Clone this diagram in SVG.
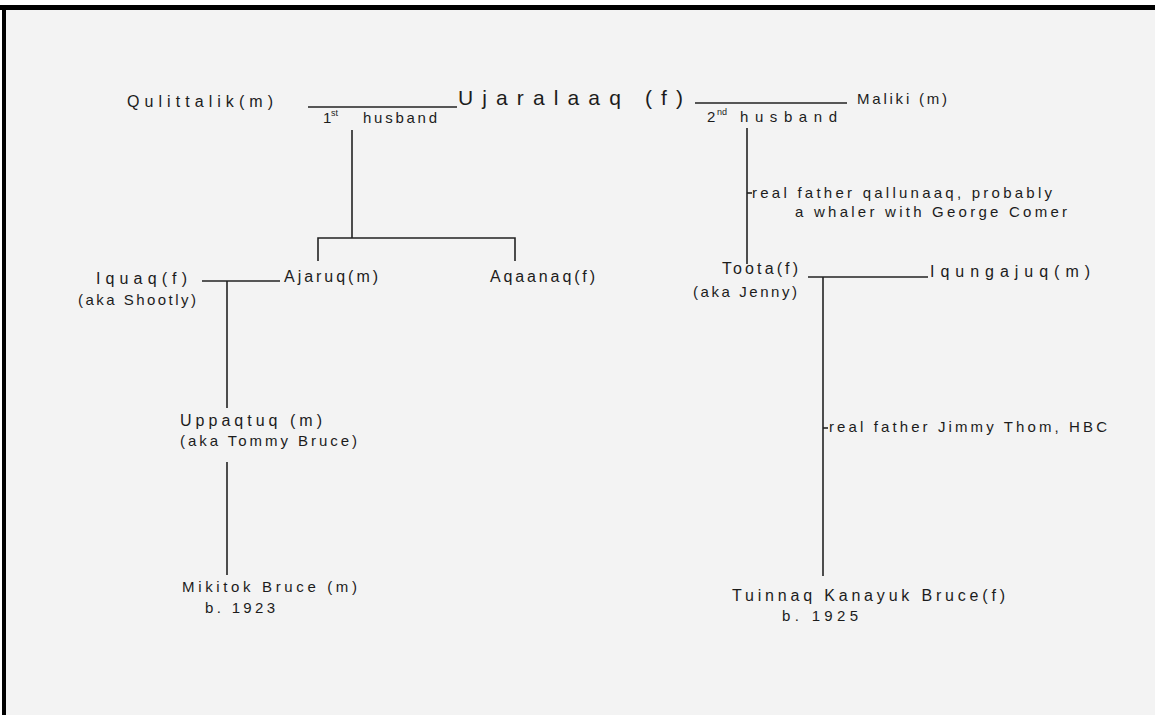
<svg xmlns="http://www.w3.org/2000/svg" width="1155" height="715" viewBox="0 0 1155 715">
<style>
text{font-family:"Liberation Sans","DejaVu Sans",sans-serif;fill:#1c1c1c;font-size:15px}
.big{font-size:21px}
.nm{font-size:16px}
.sup{font-size:9px}
.ln{stroke:#222;stroke-width:1.6;fill:none}
</style>
<rect x="0" y="0" width="1155" height="715" fill="#ffffff"/>
<rect x="5" y="9" width="1150" height="706" fill="#f3f3f3"/>
<rect x="0" y="5" width="1155" height="5" fill="#000"/>
<rect x="2" y="5" width="4" height="710" fill="#000"/>
<g id="connectors" class="ln">
<line x1="308" y1="107" x2="457" y2="107"/>
<line x1="695" y1="103" x2="847" y2="103"/>
<line x1="352" y1="130" x2="352" y2="238"/>
<polyline points="318,261 318,238 515,238 515,261"/>
<line x1="747" y1="128" x2="747" y2="264"/>
<line x1="747" y1="193" x2="752" y2="193"/>
<line x1="202" y1="281" x2="280" y2="281"/>
<line x1="227" y1="281" x2="227" y2="408"/>
<line x1="227" y1="462" x2="227" y2="575"/>
<line x1="808" y1="277" x2="928" y2="277"/>
<line x1="823" y1="277" x2="823" y2="576"/>
<line x1="823" y1="428" x2="828" y2="428"/>
</g>
<g id="qulittalik"><text class="nm" x="127" y="107" textLength="146" lengthAdjust="spacing">Qulittalik(m)</text></g>
<g id="husband1-label">
<text x="323" y="123">1</text><text class="sup" x="331" y="116">st</text>
<text x="363" y="123" textLength="74" lengthAdjust="spacing">husband</text>
</g>
<g id="ujaralaaq"><text class="big" x="458" y="105" textLength="225" lengthAdjust="spacing">Ujaralaaq (f)</text></g>
<g id="husband2-label">
<text x="707" y="122">2</text><text class="sup" x="717" y="115">nd</text>
<text x="740" y="122" textLength="97" lengthAdjust="spacing">husband</text>
</g>
<g id="maliki"><text x="857" y="104" textLength="90" lengthAdjust="spacing">Maliki (m)</text></g>
<g id="note-qallunaaq">
<text x="752" y="198" textLength="300" lengthAdjust="spacing">real father qallunaaq, probably</text>
<text x="795" y="217" textLength="272" lengthAdjust="spacing">a whaler with George Comer</text>
</g>
<g id="iquaq">
<text class="nm" x="96" y="284" textLength="91" lengthAdjust="spacing">Iquaq(f)</text>
<text x="78" y="305" textLength="118" lengthAdjust="spacing">(aka Shootly)</text>
</g>
<g id="ajaruq"><text class="nm" x="284" y="282" textLength="94" lengthAdjust="spacing">Ajaruq(m)</text></g>
<g id="aqaanaq"><text class="nm" x="490" y="282" textLength="105" lengthAdjust="spacing">Aqaanaq(f)</text></g>
<g id="toota">
<text class="nm" x="722" y="274" textLength="76" lengthAdjust="spacing">Toota(f)</text>
<text x="693" y="297" textLength="104" lengthAdjust="spacing">(aka Jenny)</text>
</g>
<g id="iqungajuq"><text class="nm" x="930" y="277" textLength="160" lengthAdjust="spacing">Iqungajuq(m)</text></g>
<g id="uppaqtuq">
<text class="nm" x="180" y="426" textLength="142" lengthAdjust="spacing">Uppaqtuq (m)</text>
<text x="180" y="446" textLength="177" lengthAdjust="spacing">(aka Tommy Bruce)</text>
</g>
<g id="note-jimmy"><text x="829" y="432" textLength="278" lengthAdjust="spacing">real father Jimmy Thom, HBC</text></g>
<g id="mikitok">
<text x="182" y="592" textLength="175" lengthAdjust="spacing">Mikitok Bruce (m)</text>
<text x="205" y="613" textLength="70" lengthAdjust="spacing">b. 1923</text>
</g>
<g id="tuinnaq">
<text class="nm" x="732" y="601" textLength="273" lengthAdjust="spacing">Tuinnaq Kanayuk Bruce(f)</text>
<text x="782" y="621" textLength="76" lengthAdjust="spacing">b. 1925</text>
</g>
</svg>
